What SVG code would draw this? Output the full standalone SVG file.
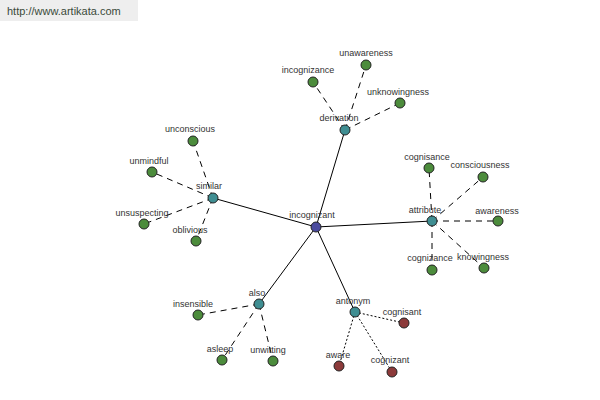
<svg xmlns="http://www.w3.org/2000/svg" width="600" height="400" viewBox="0 0 600 400">
<style>
text{font-family:"Liberation Sans",Arial,sans-serif;font-size:9px;fill:#333;text-anchor:middle}
.solid{stroke:#000;stroke-width:1;fill:none}
.dash{stroke:#000;stroke-width:1;stroke-dasharray:6 5;fill:none}
.dot{stroke:#000;stroke-width:1;stroke-dasharray:2 2;fill:none}
circle{stroke:#222;stroke-width:1}
.c{fill:#4a4a9e}
.h{fill:#3f8e92}
.l{fill:#4c8c3c}
.a{fill:#8c3a3a}
</style>
<rect width="600" height="400" fill="#fff"/>
<g id="watermark">
<rect x="0" y="0" width="138" height="21" fill="#eeeeee"/>
<text x="7" y="15" style="font-size:11px;fill:#3a4a3a;text-anchor:start">http://www.artikata.com</text>
</g>
<g id="connectors">
<line class="solid" x1="316" y1="227" x2="345" y2="130"/>
<line class="solid" x1="316" y1="227" x2="213" y2="198"/>
<line class="solid" x1="316" y1="227" x2="432" y2="221"/>
<line class="solid" x1="316" y1="227" x2="259" y2="304"/>
<line class="solid" x1="316" y1="227" x2="355" y2="312"/>
<line class="dash" x1="345" y1="130" x2="313" y2="82"/>
<line class="dash" x1="345" y1="130" x2="366" y2="65"/>
<line class="dash" x1="345" y1="130" x2="400" y2="103"/>
<line class="dash" x1="213" y1="198" x2="193" y2="141"/>
<line class="dash" x1="213" y1="198" x2="152" y2="172"/>
<line class="dash" x1="213" y1="198" x2="144" y2="224"/>
<line class="dash" x1="213" y1="198" x2="196" y2="241"/>
<line class="dash" x1="432" y1="221" x2="429" y2="168"/>
<line class="dash" x1="432" y1="221" x2="483" y2="177"/>
<line class="dash" x1="432" y1="221" x2="498" y2="221"/>
<line class="dash" x1="432" y1="221" x2="484" y2="268"/>
<line class="dash" x1="432" y1="221" x2="432" y2="270"/>
<line class="dash" x1="259" y1="304" x2="198" y2="315"/>
<line class="dash" x1="259" y1="304" x2="222" y2="360"/>
<line class="dash" x1="259" y1="304" x2="273" y2="361"/>
<line class="dot" x1="355" y1="312" x2="404" y2="323"/>
<line class="dot" x1="355" y1="312" x2="339" y2="366"/>
<line class="dot" x1="355" y1="312" x2="392" y2="372"/>
</g>
<g id="incognizant"><circle class="c" cx="316" cy="227" r="5"/><text x="312" y="218">incognizant</text></g>
<g id="derivation"><circle class="h" cx="345" cy="130" r="5"/><text x="339" y="121">derivation</text></g>
<g id="incognizance"><circle class="l" cx="313" cy="82" r="5"/><text x="308" y="73">incognizance</text></g>
<g id="unawareness"><circle class="l" cx="366" cy="65" r="5"/><text x="366" y="56">unawareness</text></g>
<g id="unknowingness"><circle class="l" cx="400" cy="103" r="5"/><text x="398" y="95">unknowingness</text></g>
<g id="similar"><circle class="h" cx="213" cy="198" r="5"/><text x="209" y="189">similar</text></g>
<g id="unconscious"><circle class="l" cx="193" cy="141" r="5"/><text x="190" y="132">unconscious</text></g>
<g id="unmindful"><circle class="l" cx="152" cy="172" r="5"/><text x="149" y="164">unmindful</text></g>
<g id="unsuspecting"><circle class="l" cx="144" cy="224" r="5"/><text x="142" y="216">unsuspecting</text></g>
<g id="oblivious"><circle class="l" cx="196" cy="241" r="5"/><text x="190" y="233">oblivious</text></g>
<g id="attribute"><circle class="h" cx="432" cy="221" r="5"/><text x="425" y="213">attribute</text></g>
<g id="cognisance"><circle class="l" cx="429" cy="168" r="5"/><text x="427" y="160">cognisance</text></g>
<g id="consciousness"><circle class="l" cx="483" cy="177" r="5"/><text x="480" y="168">consciousness</text></g>
<g id="awareness"><circle class="l" cx="498" cy="221" r="5"/><text x="497" y="214">awareness</text></g>
<g id="knowingness"><circle class="l" cx="484" cy="268" r="5"/><text x="483" y="260">knowingness</text></g>
<g id="cognizance"><circle class="l" cx="432" cy="270" r="5"/><text x="430" y="261">cognizance</text></g>
<g id="also"><circle class="h" cx="259" cy="304" r="5"/><text x="257" y="296">also</text></g>
<g id="insensible"><circle class="l" cx="198" cy="315" r="5"/><text x="193" y="307">insensible</text></g>
<g id="asleep"><circle class="l" cx="222" cy="360" r="5"/><text x="220" y="352">asleep</text></g>
<g id="unwitting"><circle class="l" cx="273" cy="361" r="5"/><text x="268" y="353">unwitting</text></g>
<g id="antonym"><circle class="h" cx="355" cy="312" r="5"/><text x="353" y="304">antonym</text></g>
<g id="cognisant"><circle class="a" cx="404" cy="323" r="5"/><text x="402" y="315">cognisant</text></g>
<g id="aware"><circle class="a" cx="339" cy="366" r="5"/><text x="338" y="358">aware</text></g>
<g id="cognizant"><circle class="a" cx="392" cy="372" r="5"/><text x="390" y="363">cognizant</text></g>
</svg>
